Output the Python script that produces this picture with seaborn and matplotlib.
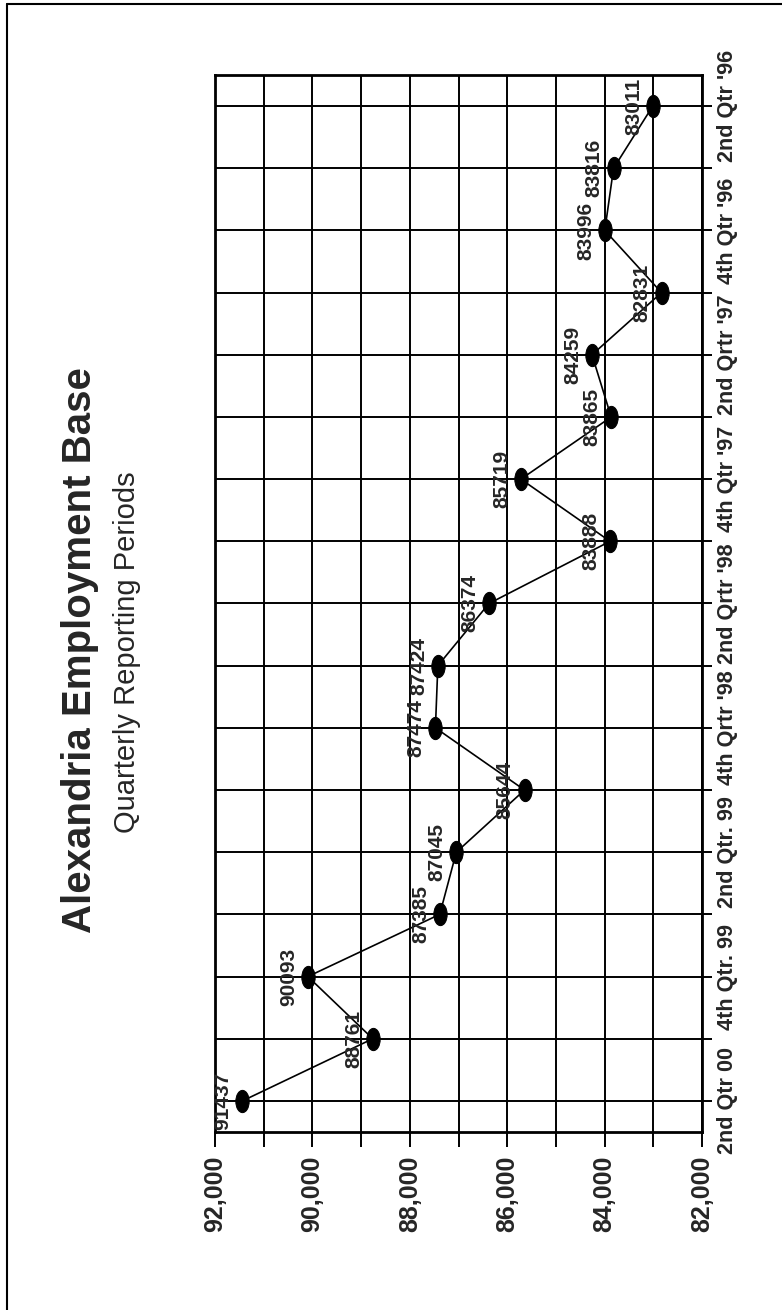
import matplotlib
matplotlib.use("Agg")
import numpy as np
import pandas as pd
import matplotlib.pyplot as plt
import seaborn as sns
from matplotlib.markers import MarkerStyle
from matplotlib.transforms import Affine2D
from matplotlib.ticker import MultipleLocator

# -------------------------------
# Data (top of page = 2nd Qtr '96, bottom = 2nd Qtr 00)
# -------------------------------
employment = [83011, 83816, 83996, 82831, 84259, 83865, 85719, 83888, 86374,
              87424, 87474, 85644, 87045, 87385, 90093, 88761, 91437]
# only every other period is labelled on the axis
period_labels = ["2nd Qtr '96", "4th Qtr '96", "2nd Qrtr '97", "4th Qtr '97",
                 "2nd Qrtr '98", "4th Qrtr '98", "2nd Qtr. 99", "4th Qtr. 99",
                 "2nd Qtr 00"]
value_ticks = [92000, 90000, 88000, 86000, 84000, 82000]

title = "Alexandria Employment Base"
subtitle = "Quarterly Reporting Periods"

# -------------------------------
# Setup
# -------------------------------
sns.set_style("white")
plt.rcParams["font.family"] = ["Liberation Sans", "DejaVu Sans"]

W, H = 782, 1310
fig = plt.figure(figsize=(W / 100, H / 100), dpi=100)
ax = fig.add_axes([215 / W, 1 - 1132 / H, (702 - 215) / W, (1132 - 75) / H])

pos = np.arange(len(employment))
df = pd.DataFrame({"employment": employment, "pos": pos})

# chart is printed sideways: values run horizontally, periods vertically
ellipse = MarkerStyle("o", transform=Affine2D().scale(0.6, 1.0))
sns.lineplot(data=df, x="employment", y="pos", sort=False, estimator=None,
             color="black", lw=1.2, marker=ellipse, markersize=16,
             markeredgecolor="black", markerfacecolor="black", ax=ax)

ax.set_xlim(92000, 82000)
ax.set_ylim(len(employment) - 0.5, -0.5)

ax.set_xticks(value_ticks)
ax.xaxis.set_minor_locator(MultipleLocator(1000))
ax.set_xticklabels([f"{v:,}" for v in value_ticks], rotation=90,
                   ha="center", va="top", fontsize=18, fontweight="bold")

ax.set_yticks(pos[::2])
ax.set_yticks(pos, minor=True)
ax.set_yticklabels(period_labels, rotation=90, va="center", ha="left",
                   fontsize=15.6, fontweight="bold")
ax.yaxis.tick_right()

ax.set_xlabel("")
ax.set_ylabel("")
ax.grid(which="both", color="black", lw=1.4)
ax.set_axisbelow(True)
for s in ax.spines.values():
    s.set_color("black")
    s.set_linewidth(2)

ax.tick_params(axis="x", which="both", direction="out", length=11, width=1.4,
               color="black", bottom=True, pad=6)
ax.tick_params(axis="y", which="both", direction="out", length=7, width=1.4,
               color="black", right=True, left=False, pad=4)

# data labels, on the high-value side of each point
for p, v in zip(pos, employment):
    ax.annotate(str(v), (v, p), xytext=(-7, 0), textcoords="offset points",
                rotation=90, ha="right", va="center", fontsize=15,
                fontweight="bold")

# titles
fig.text(80 / W, 1 - 650 / H, title, rotation=90, ha="center", va="center",
         fontsize=29, fontweight="bold")
fig.text(127 / W, 1 - 652 / H, subtitle, rotation=90, ha="center",
         va="center", fontsize=21)

# page frame (scan edge: left and top)
fig.add_artist(plt.Line2D([7 / W, 7 / W], [0, 1 - 4 / H],
                          transform=fig.transFigure, color="black", lw=1.5))
fig.add_artist(plt.Line2D([7 / W, 1], [1 - 4 / H, 1 - 4 / H],
                          transform=fig.transFigure, color="black", lw=1.5))

fig.savefig("out.png", dpi=100)
